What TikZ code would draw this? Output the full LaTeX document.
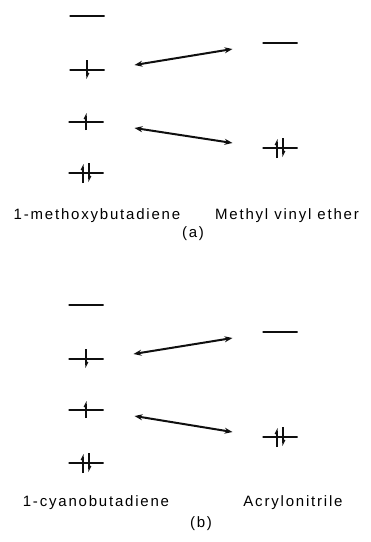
\documentclass[tikz,border=0pt]{standalone}
\usepackage{fontspec}
\setmainfont{Liberation Sans}
\newfontfamily\labfont[LetterSpace=12]{Liberation Sans}
\usetikzlibrary{arrows.meta,positioning}
\definecolor{InkK}{RGB}{15,15,15}

\begin{document}
\begin{tikzpicture}[x=1pt,y=-1pt,
    level/.style={draw=InkK,line width=1.9pt,minimum width=35pt,minimum height=0pt,inner sep=0pt,outer sep=0pt},
    spin/.style={InkK,line width=1.2pt,-{Straight Barb[harpoon,length=3.5pt,width=3.5pt]}},
    link/.style={InkK,line width=2pt,{Stealth[length=8pt,width=6pt]}-{Stealth[length=8pt,width=6pt]}},
    lab/.style={font=\labfont\fontsize{15}{18}\selectfont,inner sep=0pt}]
  \useasboundingbox (0,0) rectangle (371,542);
  % levels, panel (a)
  \node[level] (aL1) at (87,16) {};
  \node[level] (aL2) at (87,70) {};
  \node[level] (aL3) at (86,122) {};
  \node[level] (aL4) at (86,173) {};
  \node[level] (aR1) at (280,43) {};
  \node[level] (aR2) at (280,148) {};
  % levels, panel (b)
  \node[level] (bL1) at (86,305) {};
  \node[level] (bL2) at (86,359) {};
  \node[level] (bL3) at (86,410) {};
  \node[level] (bL4) at (86,463) {};
  \node[level] (bR1) at (280,332) {};
  \node[level] (bR2) at (280,437) {};
  \foreach \p in {a,b} {
    % electrons
    \draw[spin] ([yshift=10pt]\p L2.center) -- ([yshift=-9pt]\p L2.center);
    \draw[spin] ([yshift=-8pt]\p L3.center) -- ([yshift=9pt]\p L3.center);
    \draw[spin] ([xshift=-3pt,yshift=-10pt]\p L4.center) -- ([xshift=-3pt,yshift=9pt]\p L4.center);
    \draw[spin] ([xshift=3pt,yshift=10pt]\p L4.center) -- ([xshift=3pt,yshift=-9pt]\p L4.center);
    \draw[spin] ([xshift=-3pt,yshift=-10pt]\p R2.center) -- ([xshift=-3pt,yshift=9pt]\p R2.center);
    \draw[spin] ([xshift=3pt,yshift=10pt]\p R2.center) -- ([xshift=3pt,yshift=-9pt]\p R2.center);
    % interactions
    \draw[link] ([xshift=30pt,yshift=5pt]\p L2.east) -- ([xshift=-30pt,yshift=-6pt]\p R1.west);
    \draw[link] ([xshift=31pt,yshift=-6pt]\p L3.east) -- ([xshift=-30pt,yshift=5pt]\p R2.west);
  }
  \node[lab] (dienA) at (97,216) {1-methoxybutadiene};
  \node[lab] (enesA) at (287,216) {Methyl vinyl ether};
  \node[lab] (capA) at (193,234) {(a)};
  \node[lab] (dienB) at (96,503) {1-cyanobutadiene};
  \node[lab] (enesB) at (293,503) {Acrylonitrile};
  \node[lab] (capB) at (201,524) {(b)};
\end{tikzpicture}
\end{document}
